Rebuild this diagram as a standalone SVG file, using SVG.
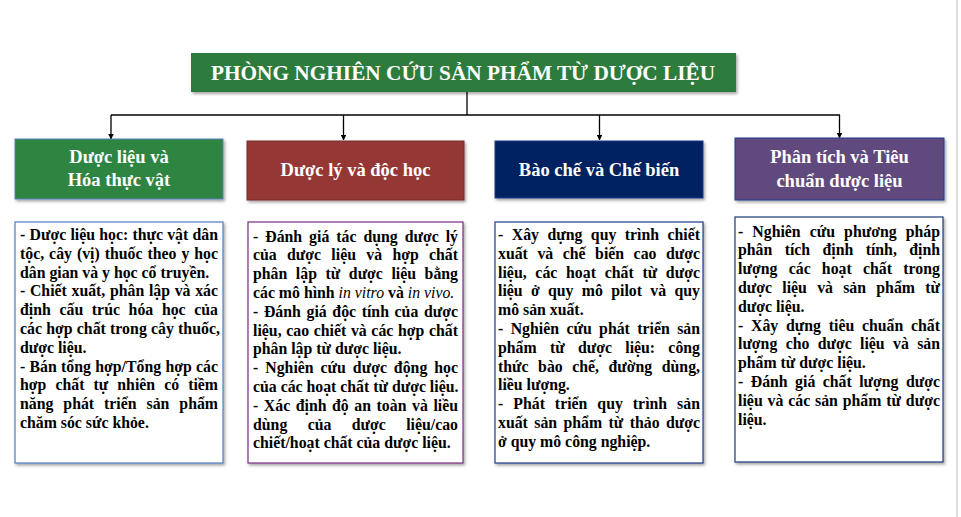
<svg xmlns="http://www.w3.org/2000/svg" width="961" height="517" viewBox="0 0 961 517">
<defs>
<filter id="sh" x="-5%" y="-5%" width="110%" height="115%">
<feDropShadow dx="1.5" dy="2" stdDeviation="1.5" flood-color="#000" flood-opacity="0.35"/>
</filter>
<marker id="ar" viewBox="0 0 10 10" refX="9" refY="5" markerWidth="4.5" markerHeight="4.5" orient="auto">
<path d="M0,0 L10,5 L0,10 z" fill="#000"/>
</marker>
</defs>
<style>
.hd{font-family:"Liberation Serif","Times New Roman",serif;font-weight:bold;fill:#fff;text-anchor:middle;font-size:18.5px}
.tt{font-family:"Liberation Serif","Times New Roman",serif;font-weight:bold;fill:#fff;text-anchor:middle;font-size:21px}
.bd{font-family:"Liberation Serif","Times New Roman",serif;font-weight:bold;fill:#000;font-size:15.8px}
.it{font-style:italic;font-weight:normal}
.cb{fill:#fff;stroke-width:1.2}
.con{stroke:#000;stroke-width:1.3;fill:none}
</style>
<rect width="961" height="517" fill="#fff"/>
<line x1="957" y1="0" x2="957" y2="517" stroke="#d4d4d4" stroke-width="1.5"/>

<g id="connectors">
<line class="con" x1="467" y1="92" x2="467" y2="115"/>
<line class="con" x1="111" y1="115" x2="840" y2="115"/>
<line class="con" x1="111" y1="115" x2="111" y2="139" marker-end="url(#ar)"/>
<line class="con" x1="343.5" y1="115" x2="343.5" y2="140" marker-end="url(#ar)"/>
<line class="con" x1="599.5" y1="115" x2="599.5" y2="140" marker-end="url(#ar)"/>
<line class="con" x1="839.5" y1="115" x2="839.5" y2="138" marker-end="url(#ar)"/>
</g>

<g id="title">
<rect x="191" y="53" width="545" height="39" fill="#2E7B3D" filter="url(#sh)"/>
<text class="tt" x="463" y="80" textLength="504" lengthAdjust="spacingAndGlyphs">PHÒNG NGHIÊN CỨU SẢN PHẨM TỪ DƯỢC LIỆU</text>
</g>

<g id="h1">
<rect x="15" y="139" width="208" height="60" fill="#2E8542" stroke="#5B7FC0" stroke-width="1" filter="url(#sh)"/>
<text class="hd" x="119" y="163">Dược liệu và</text>
<text class="hd" x="119" y="186">Hóa thực vật</text>
</g>
<g id="h2">
<rect x="247" y="141" width="217" height="59" fill="#953735" stroke="#7A2A2A" stroke-width="1" filter="url(#sh)"/>
<text class="hd" x="355.5" y="176">Dược lý và độc học</text>
</g>
<g id="h3">
<rect x="495" y="141" width="208" height="57" fill="#002060" stroke="#1F3A8A" stroke-width="1" filter="url(#sh)"/>
<text class="hd" x="599" y="176">Bào chế và Chế biến</text>
</g>
<g id="h4">
<rect x="735" y="138" width="209" height="62" fill="#604A7B" stroke="#1F3A93" stroke-width="1" filter="url(#sh)"/>
<text class="hd" x="839.5" y="163">Phân tích và Tiêu</text>
<text class="hd" x="839.5" y="187">chuẩn dược liệu</text>
</g>

<g id="c1">
<rect class="cb" x="15" y="222" width="208" height="241" stroke="#4F7CC0" filter="url(#sh)"/>
<text class="bd" x="20" y="240" textLength="198" lengthAdjust="spacing" word-spacing="0.4">- Dược liệu học: thực vật dân</text>
<text class="bd" x="20" y="258.8" textLength="198" lengthAdjust="spacing" word-spacing="1">tộc, cây (vị) thuốc theo y học</text>
<text class="bd" x="20" y="277.6">dân gian và y học cổ truyền.</text>
<text class="bd" x="20" y="296.4" textLength="198" lengthAdjust="spacing" word-spacing="0.7">- Chiết xuất, phân lập và xác</text>
<text class="bd" x="20" y="315.2" textLength="198" lengthAdjust="spacing" word-spacing="4.7">định cấu trúc hóa học của</text>
<text class="bd" x="20" y="334" textLength="200" lengthAdjust="spacing">các hợp chất trong cây thuốc,</text>
<text class="bd" x="20" y="352.8">dược liệu.</text>
<text class="bd" x="20" y="371.6" textLength="198" lengthAdjust="spacing" word-spacing="0.2">- Bán tổng hợp/Tổng hợp các</text>
<text class="bd" x="20" y="390.4" textLength="198" lengthAdjust="spacing" word-spacing="5.1">hợp chất tự nhiên có tiềm</text>
<text class="bd" x="20" y="409.2" textLength="198" lengthAdjust="spacing" word-spacing="6">năng phát triển sản phẩm</text>
<text class="bd" x="20" y="428">chăm sóc sức khỏe.</text>
</g>

<g id="c2">
<rect class="cb" x="248" y="222" width="215" height="241" stroke="#7B2C83" filter="url(#sh)"/>
<text class="bd" x="253" y="241.5" textLength="205" lengthAdjust="spacing" word-spacing="3">- Đánh giá tác dụng dược lý</text>
<text class="bd" x="253" y="260.3" textLength="205" lengthAdjust="spacing" word-spacing="6.4">của dược liệu và hợp chất</text>
<text class="bd" x="253" y="279.1" textLength="205" lengthAdjust="spacing" word-spacing="4.6">phân lập từ dược liệu bằng</text>
<text class="bd" x="253" y="297.9">các mô hình <tspan class="it">in vitro</tspan> và <tspan class="it">in vivo.</tspan></text>
<text class="bd" x="253" y="316.7" textLength="205" lengthAdjust="spacing" word-spacing="1.7">- Đánh giá độc tính của dược</text>
<text class="bd" x="253" y="335.5" textLength="205" lengthAdjust="spacing" word-spacing="0.6">liệu, cao chiết và các hợp chất</text>
<text class="bd" x="253" y="354.3">phân lập từ dược liệu.</text>
<text class="bd" x="253" y="373.1" textLength="205" lengthAdjust="spacing" word-spacing="3">- Nghiên cứu dược động học</text>
<text class="bd" x="253" y="391.9">của các hoạt chất từ dược liệu.</text>
<text class="bd" x="253" y="410.7" textLength="205" lengthAdjust="spacing" word-spacing="1.6">- Xác định độ an toàn và liều</text>
<text class="bd" x="253" y="429.5" textLength="205" lengthAdjust="spacing" word-spacing="16.4">dùng của dược liệu/cao</text>
<text class="bd" x="253" y="448.3">chiết/hoạt chất của dược liệu.</text>
</g>

<g id="c3">
<rect class="cb" x="495" y="222" width="208" height="241" stroke="#1F3A8A" filter="url(#sh)"/>
<text class="bd" x="498" y="240" textLength="202" lengthAdjust="spacing" word-spacing="4.5">- Xây dựng quy trình chiết</text>
<text class="bd" x="498" y="258.8" textLength="202" lengthAdjust="spacing" word-spacing="5.6">xuất và chế biến cao dược</text>
<text class="bd" x="498" y="277.6" textLength="202" lengthAdjust="spacing" word-spacing="4.6">liệu, các hoạt chất từ dược</text>
<text class="bd" x="498" y="296.4" textLength="202" lengthAdjust="spacing" word-spacing="4.4">liệu ở quy mô pilot và quy</text>
<text class="bd" x="498" y="315.2">mô sản xuất.</text>
<text class="bd" x="498" y="334" textLength="202" lengthAdjust="spacing" word-spacing="3.4">- Nghiên cứu phát triển sản</text>
<text class="bd" x="498" y="352.8" textLength="202" lengthAdjust="spacing" word-spacing="9.3">phẩm từ dược liệu: công</text>
<text class="bd" x="498" y="371.6" textLength="202" lengthAdjust="spacing" word-spacing="5.6">thức bào chế, đường dùng,</text>
<text class="bd" x="498" y="390.4">liều lượng.</text>
<text class="bd" x="498" y="409.2" textLength="202" lengthAdjust="spacing" word-spacing="6">- Phát triển quy trình sản</text>
<text class="bd" x="498" y="428" textLength="202" lengthAdjust="spacing" word-spacing="2.4">xuất sản phẩm từ thảo dược</text>
<text class="bd" x="498" y="446.8">ở quy mô công nghiệp.</text>
</g>

<g id="c4">
<rect class="cb" x="735" y="217" width="208" height="245" stroke="#1F3A7A" filter="url(#sh)"/>
<text class="bd" x="738" y="236.5" textLength="202" lengthAdjust="spacing" word-spacing="5.1">- Nghiên cứu phương pháp</text>
<text class="bd" x="738" y="255.3" textLength="202" lengthAdjust="spacing" word-spacing="8.4">phân tích định tính, định</text>
<text class="bd" x="738" y="274.1" textLength="202" lengthAdjust="spacing" word-spacing="7.1">lượng các hoạt chất trong</text>
<text class="bd" x="738" y="292.9" textLength="202" lengthAdjust="spacing" word-spacing="6.3">dược liệu và sản phẩm từ</text>
<text class="bd" x="738" y="311.7">dược liệu.</text>
<text class="bd" x="738" y="330.5" textLength="202" lengthAdjust="spacing" word-spacing="3.8">- Xây dựng tiêu chuẩn chất</text>
<text class="bd" x="738" y="349.3" textLength="202" lengthAdjust="spacing" word-spacing="4.4">lượng cho dược liệu và sản</text>
<text class="bd" x="738" y="368.1">phẩm từ dược liệu.</text>
<text class="bd" x="738" y="386.9" textLength="202" lengthAdjust="spacing" word-spacing="3.5">- Đánh giá chất lượng dược</text>
<text class="bd" x="738" y="405.7" textLength="202" lengthAdjust="spacing" word-spacing="0.8">liệu và các sản phẩm từ dược</text>
<text class="bd" x="738" y="424.5">liệu.</text>
</g>
</svg>
